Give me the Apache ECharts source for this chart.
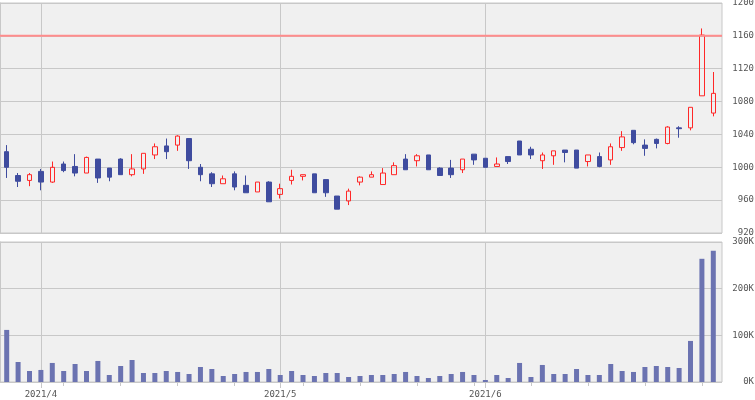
<!DOCTYPE html>
<html><head><meta charset="utf-8">
<script src="https://cdn.jsdelivr.net/npm/echarts@6/dist/echarts.min.js"></script>
<style>html,body{margin:0;padding:0;background:#fff}#c{width:755px;height:400px}</style>
</head><body><div id="c"></div>
<script>
const dates = [
'2021/3/29','2021/3/30','2021/3/31',
'2021/4/1','2021/4/2','2021/4/5','2021/4/6','2021/4/7','2021/4/8','2021/4/9','2021/4/12','2021/4/13','2021/4/14','2021/4/15','2021/4/16','2021/4/19','2021/4/20','2021/4/21','2021/4/22','2021/4/23','2021/4/26','2021/4/27','2021/4/28','2021/4/30',
'2021/5/6','2021/5/7','2021/5/10','2021/5/11','2021/5/12','2021/5/13','2021/5/14','2021/5/17','2021/5/18','2021/5/19','2021/5/20','2021/5/21','2021/5/24','2021/5/25','2021/5/26','2021/5/27','2021/5/28','2021/5/31',
'2021/6/1','2021/6/2','2021/6/3','2021/6/4','2021/6/7','2021/6/8','2021/6/9','2021/6/10','2021/6/11','2021/6/14','2021/6/15','2021/6/16','2021/6/17','2021/6/18','2021/6/21','2021/6/22','2021/6/23','2021/6/24','2021/6/25','2021/6/28','2021/6/29'
];
const opens  = [1019,990,984,995,982,1004,1001,993,1010,999,1010,991,998,1015,1026,1027,1035,1000,992,980,992,978,970,982,967,984,989,992,985,965,959,982,988,979,991,1010,1008,1015,999,999,997,1016,1011,1001,1013,1032,1022,1008,1014,1021,1021,1007,1013,1009,1024,1045,1027,1034,1029,1048,1048,1087,1066];
const closes = [1000,983,991,982,1000,996,993,1012,987,988,991,998,1017,1025,1019,1038,1008,991,980,986,976,969,982,958,974,989,991,969,969,949,971,988,991,993,1002,997,1014,997,990,991,1010,1009,1000,1004,1007,1015,1015,1015,1020,1018,999,1015,1001,1025,1037,1030,1023,1029,1049,1047,1073,1161,1090];
const lows   = [987,976,977,972,981,994,989,993,981,983,991,989,992,1010,1010,1020,998,983,976,980,972,969,970,958,962,979,984,969,964,949,954,978,988,979,991,997,1001,997,990,987,993,1003,1000,1001,1004,1015,1010,998,1003,1006,999,1001,1000,1003,1020,1028,1014,1023,1028,1036,1045,1087,1062];
const highs  = [1027,993,993,998,1007,1007,1016,1013,1010,999,1011,1016,1017,1029,1035,1039,1035,1004,994,990,995,990,982,983,980,997,991,992,985,965,974,989,995,999,1006,1016,1016,1015,1000,1009,1010,1016,1011,1012,1013,1032,1025,1018,1020,1021,1021,1015,1018,1029,1044,1045,1034,1035,1050,1050,1073,1169,1116];
const volumes = [111600,42900,23600,25800,40800,23600,38600,23600,45100,15000,34300,47200,19300,19300,23600,21500,17200,32200,27900,12900,17200,21500,21500,27900,15000,23600,15000,12900,19300,19300,10700,12900,15000,15000,17200,21500,12900,8600,12900,17200,21500,15000,4300,15000,8600,40800,10700,36500,17200,17200,27900,15000,15000,38600,23600,21500,32200,34300,32200,30000,88000,264000,281100];
const priceMin = 920, priceMax = 1200, priceStep = 40;
const volMin = 0, volMax = 300000, volStep = 100000;
const limitPrice = 1160;

const monthOf = d => d.split('/').slice(0,2).join('/');
const isMonthStart = i => i > 0 && monthOf(dates[i]) !== monthOf(dates[i-1]);
const isMonday = i => { const p = dates[i].split('/').map(Number); return i > 0 && new Date(p[0], p[1]-1, p[2]).getDay() === 1; };
const monthStarts = dates.filter((d,i) => isMonthStart(i));

const gridCol = '#c8c8c8', txtCol = '#555';
const fontF = '"DejaVu Sans Mono", monospace';
const ohlc = dates.map((d,i) => [opens[i], closes[i], lows[i], highs[i]]);
const monthLines = {
  silent: true, symbol: 'none', z: 1, animation: false,
  label: {show: false},
  lineStyle: {color: gridCol, width: 1, type: 'solid'},
  emphasis: {disabled: true},
  data: monthStarts.map(d => ({xAxis: d}))
};

const chart = echarts.init(document.getElementById('c'), null, {renderer: 'canvas'});
chart.setOption({
  animation: false,
  backgroundColor: '#fff',
  grid: [
    {left: 0, top: 3, width: 722, height: 230, show: true, backgroundColor: '#f0f0f0', borderColor: gridCol, borderWidth: 1, outerBoundsMode: 'none'},
    {left: 1, top: 3, width: 718, height: 230, outerBoundsMode: 'none'},
    {left: 0, top: 242, width: 722, height: 140, show: true, backgroundColor: '#f0f0f0', borderColor: gridCol, borderWidth: 1, outerBoundsMode: 'none'},
    {left: 1, top: 242, width: 718, height: 140, outerBoundsMode: 'none'}
  ],
  xAxis: [
    {gridIndex: 0, type: 'value', min: 0, max: 1, show: false},
    {gridIndex: 1, type: 'category', data: dates, show: false},
    {gridIndex: 2, type: 'value', min: 0, max: 1, show: false},
    {gridIndex: 3, type: 'category', data: dates, position: 'bottom',
      axisLine: {show: false},
      axisTick: {show: true, alignWithLabel: true, length: 6, interval: (i) => isMonthStart(i), lineStyle: {color: gridCol}},
      axisLabel: {show: true, interval: (i) => isMonthStart(i), formatter: v => monthOf(v), color: txtCol, fontFamily: fontF, fontSize: 9, margin: 8},
      splitLine: {show: false}},
    {gridIndex: 3, type: 'category', data: dates, position: 'bottom',
      axisLine: {show: false},
      axisTick: {show: true, alignWithLabel: true, length: 4, interval: (i) => isMonday(i), lineStyle: {color: gridCol}},
      axisLabel: {show: false}, splitLine: {show: false}}
  ],
  yAxis: [
    {gridIndex: 0, type: 'value', position: 'right', min: priceMin, max: priceMax, interval: priceStep,
      axisLine: {show: true, lineStyle: {color: gridCol}},
      axisTick: {show: true, length: 6, lineStyle: {color: gridCol}},
      splitLine: {show: true, lineStyle: {color: gridCol, width: 1}},
      axisLabel: {color: txtCol, fontFamily: fontF, fontSize: 9, align: 'right', margin: 32, formatter: v => String(v)}},
    {gridIndex: 1, type: 'value', min: priceMin, max: priceMax, show: false},
    {gridIndex: 2, type: 'value', position: 'right', min: volMin, max: volMax, interval: volStep,
      axisLine: {show: true, lineStyle: {color: gridCol}},
      axisTick: {show: true, length: 6, lineStyle: {color: gridCol}},
      splitLine: {show: true, lineStyle: {color: gridCol, width: 1}},
      axisLabel: {color: txtCol, fontFamily: fontF, fontSize: 9, align: 'right', margin: 32, formatter: v => (v/1000) + 'K'}},
    {gridIndex: 3, type: 'value', min: volMin, max: volMax, show: false}
  ],
  series: [
    {type: 'line', xAxisIndex: 0, yAxisIndex: 0, data: [[0, limitPrice], [1, limitPrice]],
      symbol: 'none', silent: true, z: 3, lineStyle: {color: '#ff8c8c', width: 2}},
    {type: 'candlestick', xAxisIndex: 1, yAxisIndex: 1, data: ohlc, barWidth: 5,
      itemStyle: {color: 'transparent', color0: '#3f4c9f', borderColor: '#ff2828', borderColor0: '#3f4c9f', borderWidth: 1},
      markLine: monthLines},
    {type: 'bar', xAxisIndex: 3, yAxisIndex: 3, data: volumes, barWidth: 5,
      itemStyle: {color: '#6b73b1'}, markLine: monthLines}
  ]
});
</script></body></html>
